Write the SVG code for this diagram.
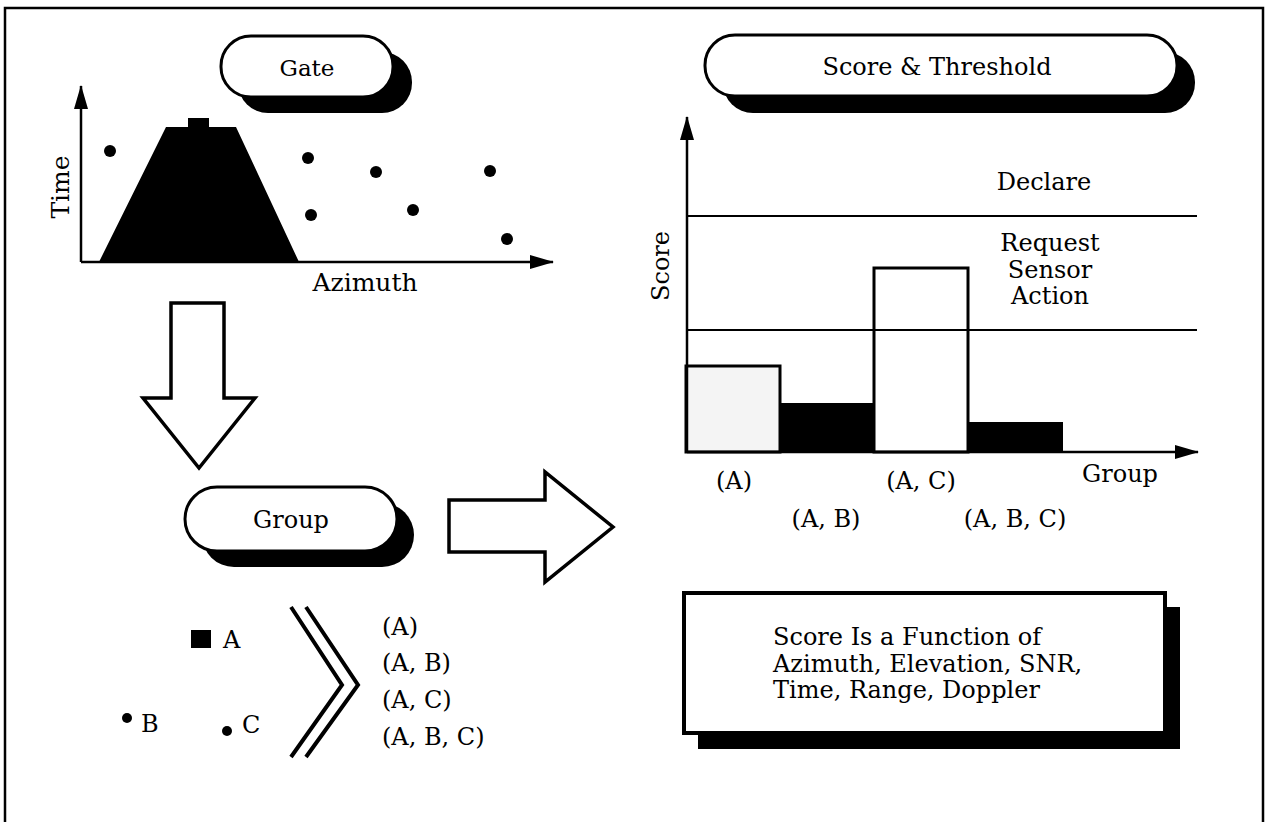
<svg xmlns="http://www.w3.org/2000/svg" width="1269" height="822" viewBox="0 0 1269 822">
<style>
text{font-family:"DejaVu Serif","Liberation Serif",serif;fill:#000}
.lbl{font-size:24px}
.mid{text-anchor:middle}
.ln{stroke:#000;stroke-width:2.5;fill:none}
.pill{fill:#fff;stroke:#000;stroke-width:3}
.shadow{fill:#000}
.blk{fill:#fff;stroke:#000;stroke-width:3.5;stroke-linejoin:miter}
</style>
<defs>
<marker id="ah" viewBox="0 0 24 14" refX="23" refY="7" markerWidth="24" markerHeight="14" markerUnits="userSpaceOnUse" orient="auto">
<path d="M0,0 L24,7 L0,14 Z" fill="#000"/>
</marker>
</defs>
<rect width="1269" height="822" fill="#fff"/>
<path d="M5,830 L5,8 L1263,8 L1263,830" fill="none" stroke="#000" stroke-width="2.5"/>

<g id="gate">
<rect class="shadow" x="238" y="52" width="174" height="61" rx="30"/>
<rect class="pill" x="221" y="36" width="172" height="61" rx="30"/>
<text class="mid" x="307" y="76" font-size="23">Gate</text>
</g>

<g id="gate-plot">
<line class="ln" x1="81" y1="262" x2="81" y2="86" marker-end="url(#ah)"/>
<line class="ln" x1="81" y1="262" x2="553" y2="262" marker-end="url(#ah)"/>
<text transform="translate(69,187) rotate(-90)" class="mid" font-size="25">Time</text>
<text x="365" y="291" class="mid" font-size="25">Azimuth</text>
<polygon points="99,262 166,127 188,127 188,118 209,118 209,127 236,127 299,262" fill="#000"/>
<g fill="#000">
<circle cx="110" cy="151" r="6"/>
<circle cx="308" cy="158" r="6"/>
<circle cx="376" cy="172" r="6"/>
<circle cx="490" cy="171" r="6"/>
<circle cx="311" cy="215" r="6"/>
<circle cx="413" cy="210" r="6"/>
<circle cx="507" cy="239" r="6"/>
</g>
</g>

<g id="group">
<rect class="shadow" x="202" y="503" width="212" height="64" rx="32"/>
<rect class="pill" x="185" y="487" width="212" height="64" rx="32"/>
<text class="mid" x="291" y="528" font-size="24">Group</text>
</g>

<g id="group-items">
<rect x="191" y="630" width="20" height="18" fill="#000"/>
<text x="223" y="648" class="lbl">A</text>
<circle cx="127" cy="718" r="5" fill="#000"/>
<text x="141" y="732" class="lbl">B</text>
<circle cx="227" cy="731" r="5" fill="#000"/>
<text x="242" y="733" class="lbl">C</text>
<polyline points="291,607 342,685 291,757" fill="none" stroke="#000" stroke-width="4"/>
<polyline points="306,607 358,685 306,757" fill="none" stroke="#000" stroke-width="4"/>
<text x="382" y="635" class="lbl">(A)</text>
<text x="382" y="671" class="lbl">(A, B)</text>
<text x="382" y="708" class="lbl">(A, C)</text>
<text x="382" y="745" class="lbl">(A, B, C)</text>
</g>

<g id="score-threshold">
<rect class="shadow" x="723" y="52" width="472" height="61" rx="30"/>
<rect class="pill" x="705" y="35" width="472" height="61" rx="30"/>
<text class="mid" x="937" y="75" font-size="24">Score &amp; Threshold</text>
</g>

<g id="score-chart">
<rect x="686" y="366" width="94" height="86" fill="#f4f4f4" stroke="#000" stroke-width="3"/>
<rect x="780" y="403" width="94" height="49" fill="#000"/>
<rect x="874" y="268" width="94" height="184" fill="#fff" stroke="#000" stroke-width="3"/>
<rect x="968" y="422" width="95" height="30" fill="#000"/>
<line x1="687" y1="216" x2="1197" y2="216" stroke="#000" stroke-width="2"/>
<line x1="687" y1="330" x2="1197" y2="330" stroke="#000" stroke-width="2"/>
<line class="ln" x1="687" y1="452" x2="687" y2="117" marker-end="url(#ah)"/>
<line class="ln" x1="687" y1="452" x2="1198" y2="452" marker-end="url(#ah)"/>
<text transform="translate(669,266) rotate(-90)" class="mid" font-size="24">Score</text>
<text x="1044" y="190" class="mid lbl">Declare</text>
<text x="1050" y="251" class="mid lbl">Request</text>
<text x="1050" y="278" class="mid lbl">Sensor</text>
<text x="1050" y="304" class="mid lbl">Action</text>
<text x="734" y="489" class="mid lbl">(A)</text>
<text x="921" y="489" class="mid lbl">(A, C)</text>
<text x="1120" y="482" class="mid lbl">Group</text>
<text x="826" y="527" class="mid lbl">(A, B)</text>
<text x="1015" y="527" class="mid lbl">(A, B, C)</text>
</g>

<g id="function-box">
<rect class="shadow" x="698" y="607" width="482" height="142"/>
<rect x="684" y="593" width="481" height="140" fill="#fff" stroke="#000" stroke-width="4"/>
<text x="773" y="645" class="lbl">Score Is a Function of</text>
<text x="773" y="672" class="lbl">Azimuth, Elevation, SNR,</text>
<text x="773" y="698" class="lbl">Time, Range, Doppler</text>
</g>

<g id="connectors">
<polygon class="blk" points="171,303 224,303 224,398 255,398 199,468 143,398 171,398"/>
<polygon class="blk" points="449,500 545,500 545,472 613,527 545,582 545,552 449,552"/>
</g>
</svg>
